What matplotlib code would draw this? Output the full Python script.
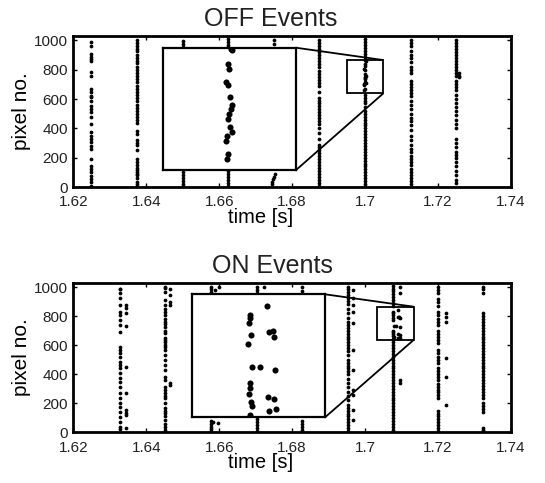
import matplotlib
matplotlib.use('Agg')
import matplotlib.pyplot as plt
from mpl_toolkits.axes_grid1.inset_locator import mark_inset

plt.rcParams.update({
    'font.family': ['Liberation Sans', 'DejaVu Sans'],
    'font.size': 11,
    'xtick.labelsize': 11,
    'ytick.labelsize': 11,
    'axes.linewidth': 2.0,
    'text.color': '#222222',
    'xtick.color': 'black',
    'ytick.color': 'black',
    'xtick.labelcolor': '#222222',
    'ytick.labelcolor': '#222222',
})

# ---- OFF events: burst times and pixel numbers per burst ----
off_times = [1.6248, 1.6374, 1.6500, 1.6623, 1.6749, 1.6874, 1.7000, 1.7125, 1.7249]
off_pixels = [
    [987, 964, 907, 885, 873, 862, 782, 759, 668, 646, 623, 612, 589, 555, 532, 509,
     475, 430, 373, 350, 327, 305, 282, 259, 191, 146, 123, 100, 77, 55, 32, 9],
    [1000, 985, 960, 940, 925, 900, 880, 860, 845, 820, 800, 780, 760, 735, 715, 690,
     670, 650, 625, 605, 585, 560, 540, 520, 500, 480, 455, 440, 385, 365, 320, 300,
     285, 250, 190, 170, 150, 130, 115, 100, 90, 80, 60, 35, 20, 5],
    [995, 975, 955, 100, 80, 60, 40, 20, 5],
    [1010, 990, 970, 955, 110, 90, 70, 50, 30, 10],
    [1005, 975],
    [1000, 980, 960, 940, 920, 900, 880, 860, 840, 820, 790, 770, 750, 730, 710, 690,
     650, 610, 590, 570, 550, 530, 510, 490, 470, 450, 430, 400, 370, 330, 290, 270,
     250, 230, 210, 190, 170, 150, 130, 110, 90, 70, 50, 30, 10],
    [1010, 990, 970, 950, 930, 910, 890, 630, 610, 590, 570, 545, 520, 500, 480, 460,
     440, 420, 400, 380, 360, 340, 320, 300, 280, 260, 240, 220, 200, 180, 160, 140,
     120, 100, 80, 60, 40, 20, 5],
    [1000, 980, 960, 930, 900, 880, 850, 820, 800, 780, 720, 700, 680, 660, 640, 620,
     590, 560, 530, 500, 470, 450, 420, 390, 350, 320, 290, 260, 240, 210, 190, 170,
     150, 120, 100, 80, 60, 40, 20],
    [1000, 980, 960, 940, 920, 900, 880, 860, 840, 820, 800, 780, 760, 725, 700, 680,
     660, 630, 600, 570, 545, 520, 490, 460, 430, 400, 330, 300, 270, 240, 220, 200,
     170, 140, 110, 80, 50, 30],
]
# single events off the burst lines
off_side_t = [1.6752, 1.6750, 1.6748, 1.6746, 1.6745, 1.7258, 1.7258, 1.7258]
off_side_y = [90, 70, 55, 35, 20, 780, 760, 750]
# events inside the zoom window
off_zoom_t = [1.70011, 1.70016, 1.69991, 1.69996, 1.69975, 1.69991, 1.70004, 1.70016,
              1.70011, 1.69996, 1.69987, 1.70004, 1.70016, 1.69980, 1.69975, 1.69987,
              1.69980]
off_zoom_y = [864, 861, 836, 827, 802, 796, 774, 759, 752, 743, 734, 718, 709, 703,
              693, 669, 659]
off_box_x = (1.695, 1.705)
off_box_y = (639, 866)

# ---- ON events ----
on_times = [1.6327, 1.6451, 1.6577, 1.6703, 1.6828, 1.6952, 1.7077, 1.7201, 1.7324]
on_pixels = [
    [990, 984, 961, 922, 877, 831, 808, 774, 739, 694, 590, 567, 544, 521, 487, 464,
     441, 407, 372, 349, 315, 270, 235, 200, 177, 143, 109, 74, 40, 24],
    [1000, 991, 968, 911, 877, 850, 831, 808, 780, 762, 745, 728, 700, 682, 650, 636,
     620, 600, 590, 567, 533, 499, 464, 430, 384, 361, 315, 295, 270, 250, 235, 200,
     166, 150, 132, 110, 86, 60, 40, 20, 6],
    [1000, 985, 965, 80, 60, 40, 25, 10],
    [1000, 980, 960, 90, 70, 50, 30, 10],
    [1000, 975, 955, 80, 60, 40, 20],
    [1000, 985, 965, 945, 925, 905, 885, 850, 820, 790, 760, 740, 720, 700, 680, 660,
     640, 620, 600, 580, 560, 530, 500, 480, 460, 440, 420, 400, 370, 340, 310, 280,
     250, 220, 190, 170, 150, 130, 110, 90, 70, 50, 30, 10],
    [1010, 990, 970, 950, 930, 910, 890, 870, 620, 600, 580, 560, 540, 520, 500, 480,
     460, 440, 420, 400, 380, 360, 340, 320, 300, 280, 260, 240, 220, 200, 180, 160,
     140, 120, 100, 80, 60, 40, 20, 5],
    [1000, 980, 960, 920, 895, 870, 830, 805, 780, 760, 740, 700, 680, 655, 635, 615,
     565, 545, 520, 500, 480, 440, 420, 400, 380, 360, 335, 315, 295, 275, 255, 235,
     150, 130, 110, 90, 70, 50, 30, 10],
    [1000, 985, 960, 820, 800, 780, 760, 740, 720, 700, 680, 660, 640, 620, 600, 580,
     560, 540, 520, 500, 480, 460, 440, 420, 400, 380, 360, 340, 320, 300, 280, 260,
     240, 200, 180, 160, 140, 30, 20, 10],
]
on_side_t = [1.6345] * 10 + [1.6465] * 6 + [1.6588, 1.6600, 1.6582, 1.6597, 1.6724] \
    + [1.6968] * 11 + [1.7095] * 4 + [1.7222] * 6
on_side_y = [877, 853, 819, 735, 449, 270, 155, 132, 120, 28,
             985, 945, 900, 880, 340, 325,
             977, 1000, 74, 63, 1000,
             980, 922, 877, 831, 750, 567, 430, 292, 256, 155, 86,
             1000, 958, 361, 338,
             819, 796, 762, 510, 384, 190]
on_zoom_t = [1.70889, 1.70761, 1.70766, 1.70756, 1.70906, 1.70935, 1.70949, 1.70773,
             1.70753, 1.70780, 1.70840, 1.70954, 1.70768, 1.70761, 1.70756, 1.70773,
             1.70780, 1.70766, 1.70901, 1.70949, 1.70906, 1.70961]
on_zoom_y = [843, 827, 820, 811, 795, 797, 786, 789, 772, 729, 730, 725, 699, 690,
             680, 665, 657, 640, 674, 670, 647, 651]
on_box_x = (1.7033, 1.7133)
on_box_y = (636, 865)

xticks = [1.62, 1.64, 1.66, 1.68, 1.70, 1.72, 1.74]
xtick_labels = ['1.62', '1.64', '1.66', '1.68', '1.7', '1.72', '1.74']
yticks = [0, 200, 400, 600, 800, 1000]


def draw_panel(fig, rect, inset_rect, title, times, pixels, side_t, side_y,
               zoom_t, zoom_y, box_x, box_y, title_x, xlabel_y):
    ax = fig.add_axes(rect)
    for t, ys in zip(times, pixels):
        ax.plot([t] * len(ys), ys, 'o', ms=2.7, color='black', mec='none')
    ax.plot(side_t, side_y, 'o', ms=2.7, color='black', mec='none')
    ax.plot(zoom_t, zoom_y, 'o', ms=2.7, color='black', mec='none')

    ax.set_xlim(1.62, 1.74)
    ax.set_ylim(0, 1030)
    ax.set_xticks(xticks)
    ax.set_xticklabels(xtick_labels)
    ax.set_yticks(yticks)
    ax.tick_params(direction='in', length=3.2, width=1.0, top=True, right=True)
    ax.tick_params(axis='x', pad=5.8)
    ax.tick_params(axis='y', pad=4)

    ax.text(title_x, 1.066, title, transform=ax.transAxes, ha='center',
            va='baseline', fontsize=18)
    ax.set_xlabel('time [s]', fontsize=14.5)
    ax.xaxis.set_label_coords(0.428, xlabel_y)
    ax.xaxis.label.set_va('baseline')
    ax.set_ylabel('pixel no.', fontsize=15)
    ax.yaxis.set_label_coords(-0.118, 0.5)
    ax.yaxis.label.set_va('center')

    axins = fig.add_axes(inset_rect)
    axins.plot(zoom_t, zoom_y, 'o', ms=4.4, color='black', mec='none')
    axins.set_xlim(*box_x)
    axins.set_ylim(*box_y)
    axins.set_xticks([])
    axins.set_yticks([])
    for sp in axins.spines.values():
        sp.set_linewidth(1.6)
    mark_inset(ax, axins, loc1=1, loc2=4, fc='none', ec='black', lw=1.3)
    return ax


fig = plt.figure(figsize=(5.45, 4.83), dpi=100)
draw_panel(fig, [0.1345, 0.6128, 0.8031, 0.3126], [0.2997, 0.648, 0.2435, 0.2532],
           'OFF Events', off_times, off_pixels, off_side_t, off_side_y,
           off_zoom_t, off_zoom_y, off_box_x, off_box_y, 0.452, -0.238)
draw_panel(fig, [0.1345, 0.1046, 0.8031, 0.3101], [0.3529, 0.136, 0.2435, 0.2547],
           'ON Events', on_times, on_pixels, on_side_t, on_side_y,
           on_zoom_t, on_zoom_y, on_box_x, on_box_y, 0.456, -0.238)

fig.savefig('out.png', dpi=100)
